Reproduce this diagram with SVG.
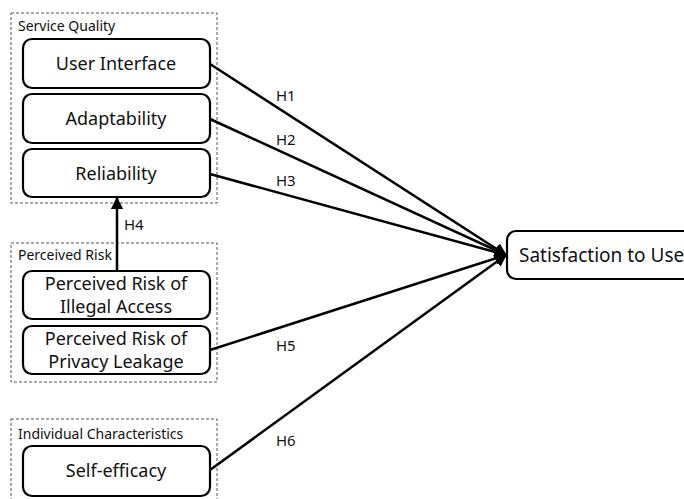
<svg xmlns="http://www.w3.org/2000/svg" width="684" height="499" viewBox="0 0 684 499">
<style>
.grp{fill:none;stroke:#555;stroke-width:1;stroke-dasharray:3,2}
.node{fill:#fff;stroke:#000;stroke-width:2.2}
.t{font-family:"Noto Sans","Liberation Sans",sans-serif;font-size:18px;fill:#111;text-anchor:middle}
.g{font-family:"Noto Sans","Liberation Sans",sans-serif;font-size:14px;fill:#111}
.h{font-family:"Noto Sans","Liberation Sans",sans-serif;font-size:15px;fill:#111}
.e{stroke:#000;stroke-width:2.5;fill:none}
</style>
<defs>
<marker id="arr" viewBox="0 0 10 10" refX="9" refY="5" markerWidth="5" markerHeight="5" orient="auto" markerUnits="strokeWidth">
<path d="M0,0 L10,5 L0,10 z" fill="#000"/>
</marker>
</defs>
<g id="group-service-quality">
<rect class="grp" x="11" y="13" width="206" height="190"/>
<text class="g" x="18" y="31">Service Quality</text>
</g>
<g id="group-perceived-risk">
<rect class="grp" x="11" y="243" width="206" height="139"/>
<text class="g" x="18" y="260">Perceived Risk</text>
</g>
<g id="group-individual">
<rect class="grp" x="11" y="419" width="206" height="90"/>
<text class="g" x="18" y="439">Individual Characteristics</text>
</g>
<g id="node-user-interface">
<rect class="node" x="23" y="39" width="187" height="49" rx="9"/>
<text class="t" x="116" y="70">User Interface</text>
</g>
<g id="node-adaptability">
<rect class="node" x="23" y="94" width="187" height="49" rx="9"/>
<text class="t" x="116" y="125">Adaptability</text>
</g>
<g id="node-reliability">
<rect class="node" x="23" y="149" width="187" height="48" rx="9"/>
<text class="t" x="116" y="180">Reliability</text>
</g>
<g id="node-illegal-access">
<rect class="node" x="23" y="271" width="187" height="48" rx="9"/>
<text class="t" x="116" y="290">Perceived Risk of</text>
<text class="t" x="116" y="313">Illegal Access</text>
</g>
<g id="node-privacy-leakage">
<rect class="node" x="23" y="326" width="187" height="48" rx="9"/>
<text class="t" x="116" y="345">Perceived Risk of</text>
<text class="t" x="116" y="368">Privacy Leakage</text>
</g>
<g id="node-self-efficacy">
<rect class="node" x="23" y="446" width="187" height="50" rx="9"/>
<text class="t" x="116" y="477">Self-efficacy</text>
</g>
<g id="node-satisfaction">
<rect class="node" x="507" y="231" width="190" height="48" rx="9"/>
<text class="g" x="519" y="262" style="font-size:19px">Satisfaction to Use</text>
</g>
<g id="connectors">
<line class="e" x1="210" y1="64" x2="506" y2="255" marker-end="url(#arr)"/>
<line class="e" x1="210" y1="119" x2="506" y2="255" marker-end="url(#arr)"/>
<line class="e" x1="210" y1="174" x2="506" y2="255" marker-end="url(#arr)"/>
<line class="e" x1="210" y1="350" x2="506" y2="255" marker-end="url(#arr)"/>
<line class="e" x1="210" y1="470" x2="506" y2="255" marker-end="url(#arr)"/>
<line class="e" x1="117" y1="271" x2="117" y2="198" marker-end="url(#arr)"/>
<text class="h" x="276" y="101">H1</text>
<text class="h" x="276" y="145">H2</text>
<text class="h" x="276" y="186">H3</text>
<text class="h" x="124" y="230">H4</text>
<text class="h" x="276" y="351">H5</text>
<text class="h" x="276" y="446">H6</text>
</g>
</svg>
